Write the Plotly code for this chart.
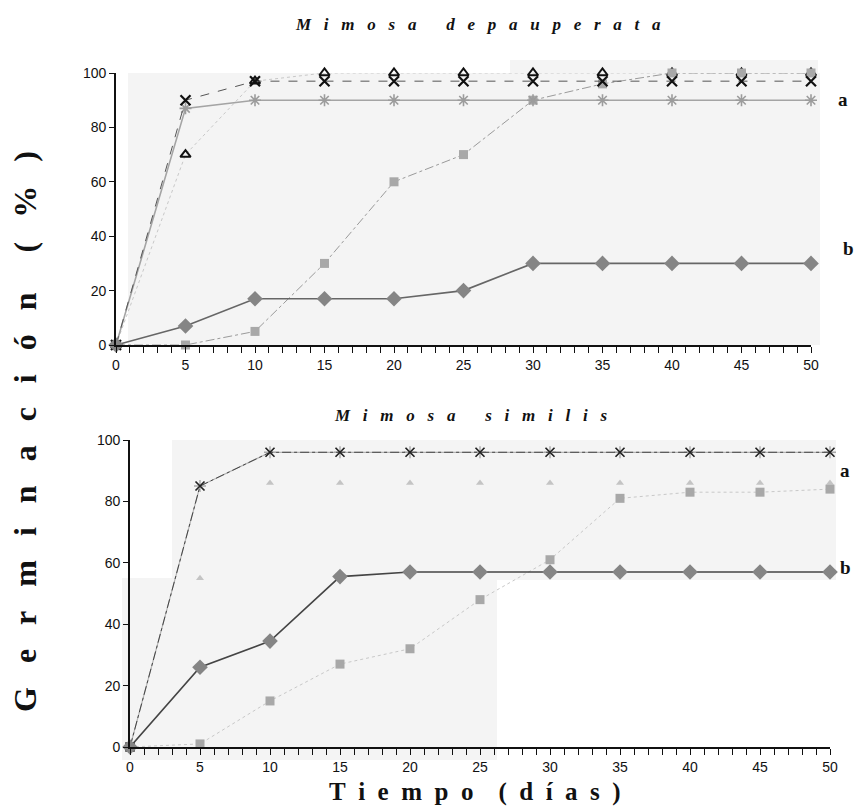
import plotly.graph_objects as go

W, H = 859, 812

days = [0, 5, 10, 15, 20, 25, 30, 35, 40, 45, 50]

# Mimosa depauperata
dep_diamond = [0, 7, 17, 17, 17, 20, 30, 30, 30, 30, 30]
dep_square = [0, 0, 5, 30, 60, 70, 90, 96, 100, 100, 100]
dep_asterisk = [0, 87, 90, 90, 90, 90, 90, 90, 90, 90, 90]
dep_x = [0, 90, 97, 97, 97, 97, 97, 97, 97, 97, 97]
dep_triangle = [0, 70, 97, 100, 100, 100, 100, 100, 100, 100, 100]

# Mimosa similis
sim_diamond = [0, 26, 34.5, 55.5, 57, 57, 57, 57, 57, 57, 57]
sim_square = [0, 1, 15, 27, 32, 48, 61, 81, 83, 83, 84]
sim_asterisk = [0, 85, 96, 96, 96, 96, 96, 96, 96, 96, 96]
sim_x = [0, 85, 96, 96, 96, 96, 96, 96, 96, 96, 96]
sim_triangle = [0, 55, 86, 86, 86, 86, 86, 86, 86, 86, 86]

x_ticks = [0, 5, 10, 15, 20, 25, 30, 35, 40, 45, 50]
y_ticks = [0, 20, 40, 60, 80, 100]


def px(x):
    return x / W


def py(y):
    return 1 - y / H


fig = go.Figure()


def add(xa, ya, y, symbol, mcolor, msize, mline, lcolor, lwidth, dash):
    fig.add_trace(go.Scatter(
        x=days, y=y, xaxis=xa, yaxis=ya, mode="lines+markers",
        line=dict(color=lcolor, width=lwidth, dash=dash),
        marker=dict(symbol=symbol, color=mcolor, size=msize,
                    line=dict(color=mcolor, width=mline)),
        cliponaxis=False, showlegend=False, hoverinfo="x+y"))


# top panel
add("x", "y", dep_triangle, "triangle-up-open", "#111111", 9, 2, "#c8c8c8", 1, "dot")
add("x", "y", dep_square, "square", "#a8a8a8", 9, 0, "#9a9a9a", 1, "dashdot")
add("x", "y", dep_asterisk, "asterisk-open", "#9c9c9c", 10, 1.6, "#a4a4a4", 1.6, "solid")
add("x", "y", dep_x, "x-thin-open", "#111111", 10, 2.2, "#555555", 1, "dash")
add("x", "y", dep_diamond, "diamond", "#858585", 12, 0, "#666666", 1.6, "solid")

# bottom panel
add("x2", "y2", sim_triangle, "triangle-up", "#c4c4c4", 7, 0, "rgba(0,0,0,0)", 1, "dot")
add("x2", "y2", sim_square, "square", "#a8a8a8", 9, 0, "#c8c8c8", 1, "dot")
add("x2", "y2", sim_asterisk, "asterisk-open", "#a8a8a8", 10, 1.4, "#b4b4b4", 1.2, "solid")
add("x2", "y2", sim_x, "x-thin-open", "#222222", 9, 1.5, "#444444", 1, "dashdot")
add("x2", "y2", sim_diamond, "diamond", "#858585", 12, 0, "#444444", 1.6, "solid")

tickfont = dict(family="Liberation Sans, Arial, sans-serif", size=14, color="#111111")

xcommon = dict(range=[0, 50], tickmode="array", tickvals=x_ticks, ticks="outside",
               ticklen=6, tickwidth=1.2, tickcolor="#111111", showline=True,
               linecolor="#111111", linewidth=1.8, showgrid=False, zeroline=False,
               tickfont=tickfont, automargin=False,
               minor=dict(dtick=1, ticks="outside", ticklen=6, tickwidth=1.2,
                          tickcolor="#111111", showgrid=False))
ycommon = dict(range=[0, 100], tickmode="array", tickvals=y_ticks, ticks="outside",
               ticklen=5, tickwidth=1.2, tickcolor="#111111", showline=True,
               linecolor="#111111", linewidth=1.8, showgrid=False, zeroline=False,
               tickfont=tickfont, automargin=False)

fig.update_layout(
    width=W, height=H,
    margin=dict(l=0, r=0, t=0, b=0),
    paper_bgcolor="white", plot_bgcolor="rgba(0,0,0,0)",
    xaxis=dict(domain=[px(116), px(811)], anchor="y", **xcommon),
    yaxis=dict(domain=[py(345), py(73)], anchor="x", **ycommon),
    xaxis2=dict(domain=[px(130), px(830)], anchor="y2", **xcommon),
    yaxis2=dict(domain=[py(747), py(440)], anchor="x2", **ycommon),
)

# faint scan shading
shade = "#f4f4f4"
for (x0, y0, x1, y1) in [(128, 73, 820, 345), (510, 60, 818, 73),
                         (172, 440, 836, 580), (122, 578, 497, 760)]:
    fig.add_shape(type="rect", xref="paper", yref="paper",
                  x0=px(x0), x1=px(x1), y0=py(y1), y1=py(y0),
                  fillcolor=shade, line=dict(width=0), layer="below")


def spaced(text, k, w):
    gap = "\u00a0" * k
    words = text.split(" ")
    return ("\u00a0" * w).join(gap.join(list(word)) for word in words)


serif = "Liberation Serif, Times New Roman, serif"
ann = []
ann.append(dict(text="<b><i>" + spaced("Mimosa depauperata", 3, 7) + "</i></b>",
                x=px(478), y=py(25), font=dict(family=serif, size=17, color="#111111")))
ann.append(dict(text="<b><i>" + spaced("Mimosa similis", 3, 7) + "</i></b>",
                x=px(470), y=py(415), font=dict(family=serif, size=17, color="#111111")))
ann.append(dict(text="<b>" + spaced("Tiempo (días)", 2, 4) + "</b>",
                x=px(475), y=py(792), font=dict(family=serif, size=25, color="#111111")))
ann.append(dict(text="<b>" + spaced("Germinación (%)", 3, 5) + "</b>",
                x=px(25), y=py(432), textangle=-90,
                font=dict(family=serif, size=32, color="#111111")))
for (t, xx, yy) in [("a", 843, 100), ("b", 848, 248), ("a", 845, 470), ("b", 845, 567)]:
    ann.append(dict(text="<b>" + t + "</b>", x=px(xx), y=py(yy),
                    font=dict(family=serif, size=19, color="#111111")))
for a in ann:
    a.update(xref="paper", yref="paper", showarrow=False, xanchor="center", yanchor="middle")
fig.update_layout(annotations=ann)

fig.write_html("out.html", config={"displayModeBar": False},
               post_script="document.body.style.margin='0px'; document.body.style.overflow='hidden';")
